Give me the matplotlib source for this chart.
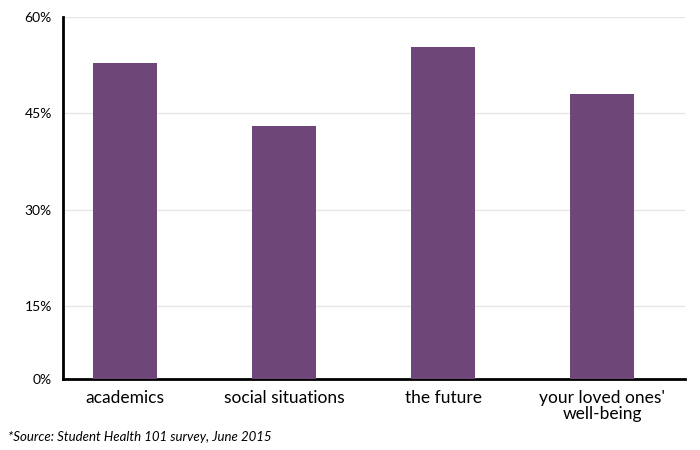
import matplotlib
matplotlib.use("Agg")
import matplotlib.pyplot as plt

categories = ["academics", "social situations", "the future", "your loved ones'\nwell-being"]
values = [52.8, 43.0, 55.3, 48.0]
tick_vals = [3.7, 15, 30, 45, 60]
tick_labels = ["0%", "15%", "30%", "45%", "60%"]

plt.rcParams["font.family"] = "Lato"
fig = plt.figure(figsize=(7, 4.5), dpi=100)
ax = fig.add_axes([63/700, 1-379/450, 622/700, 362/450])
x = list(range(len(categories)))
ax.bar(x, values, width=0.4, color="#6e4677", zorder=3)
ax.set_ylim(3.7, 60)
ax.set_xlim(-0.39, 3.52)
ax.set_yticks(tick_vals)
ax.set_yticklabels(tick_labels, fontsize=10)
ax.set_xticks(x)
ax.set_xticklabels(categories, fontsize=12.5, linespacing=1.0)
ax.tick_params(length=0, pad=8)
for v in tick_vals[1:]:
    ax.axhline(v, color="#e6e6e6", lw=1, zorder=1)
for s in ["top", "right"]:
    ax.spines[s].set_visible(False)
for s in ["left", "bottom"]:
    ax.spines[s].set_linewidth(2)
    ax.spines[s].set_color("black")
fig.text(8/700, 1-437/450, "*Source: Student Health 101 survey, June 2015", fontsize=9.5, style="italic", va="center")
fig.savefig("out.png", dpi=100)
